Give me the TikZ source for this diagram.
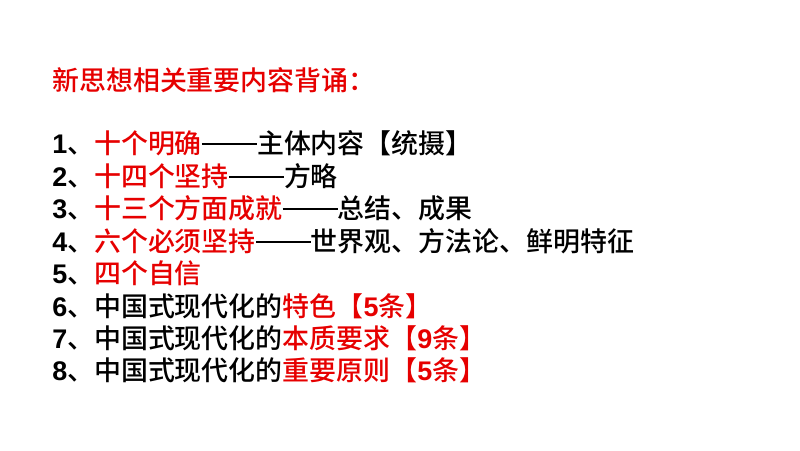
\documentclass[tikz,border=0pt]{standalone}
\usepackage{fontspec}
\newfontfamily\cjk{Noto Sans CJK SC Medium}
\newfontfamily\lat{Liberation Sans Bold}
\newcommand{\dsh}{{\lat\rule[0.3em]{2.05em}{0.09em}}}
\newcommand{\dg}[1]{{\lat #1}}
\definecolor{rd}{RGB}{230,0,0}
\begin{document}
\begin{tikzpicture}[x=0.75pt,y=-0.75pt,
  ln/.style={anchor=west,inner sep=0pt,font=\cjk\fontsize{20.2}{21}\selectfont}]
\useasboundingbox (0,0) rectangle (800,450);
\node[ln,text=rd] (t) at (52,80) {新思想相关重要内容背诵：};
\node[ln] (l1) at (52,143) {\dg{1}、\textcolor{rd}{十个明确}\dsh 主体内容【统摄】};
\node[ln] (l2) at (52,176) {\dg{2}、\textcolor{rd}{十四个坚持}\dsh 方略};
\node[ln] (l3) at (52,208) {\dg{3}、\textcolor{rd}{十三个方面成就}\dsh 总结、成果};
\node[ln] (l4) at (52,241) {\dg{4}、\textcolor{rd}{六个必须坚持}\dsh 世界观、方法论、鲜明特征};
\node[ln] (l5) at (52,273) {\dg{5}、\textcolor{rd}{四个自信}};
\node[ln] (l6) at (52,306) {\dg{6}、中国式现代化的\textcolor{rd}{特色【\dg{5}条】}};
\node[ln] (l7) at (52,338) {\dg{7}、中国式现代化的\textcolor{rd}{本质要求【\dg{9}条】}};
\node[ln] (l8) at (52,370) {\dg{8}、中国式现代化的\textcolor{rd}{重要原则【\dg{5}条】}};
\end{tikzpicture}
\end{document}
